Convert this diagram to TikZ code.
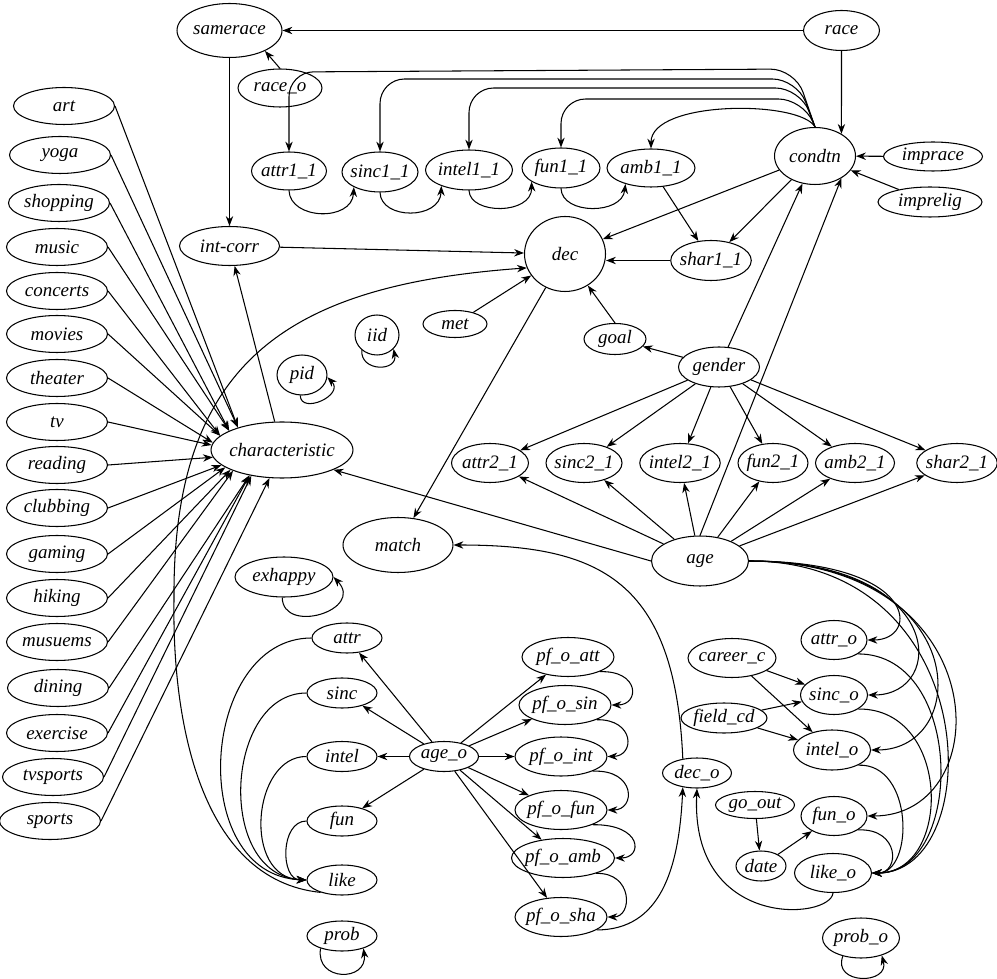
\documentclass[tikz,border=0pt]{standalone}
\usepackage{fontspec}
\setmainfont{Liberation Serif}
\usetikzlibrary{arrows.meta,shapes.geometric}

\begin{document}
\begin{tikzpicture}[
    x=0.02cm, y=-0.02cm,
    ->,
    >={Stealth[length=5.6pt,width=4.2pt]},
    line width=0.6pt
]

\tikzstyle{var}=[
    ellipse,
    draw,
    inner xsep=-1.5pt,
    inner ysep=0pt,
    minimum height=0.78cm,
    font=\itshape\fontsize{10.8}{13}\selectfont
]
\tikzstyle{low}=[var, minimum height=0.6cm]
\tikzstyle{hobby}=[var, minimum width=2.02cm, minimum height=0.74cm]

\useasboundingbox (0,0) rectangle (997,979);

% top part
\node[var, minimum width=2.1cm, minimum height=1.08cm] (samerace) at (229.5,30.5) {samerace};
\node[var, minimum width=1.52cm, minimum height=0.8cm] (race) at (841.5,30.5) {race};
\node[var, minimum width=1.68cm, minimum height=0.76cm] (race_o) at (280,88) {race\_o};
\node[var, minimum width=1.5cm, minimum height=0.76cm] (attr1_1) at (289,171) {attr1\_1};
\node[var, minimum width=1.52cm, minimum height=0.8cm] (sinc1_1) at (380,172) {sinc1\_1};
\node[var, minimum width=1.74cm, minimum height=0.8cm] (intel1_1) at (469,170) {intel1\_1};
\node[var, minimum width=1.56cm, minimum height=0.8cm] (fun1_1) at (561,168) {fun1\_1};
\node[var, minimum width=1.76cm, minimum height=0.76cm] (amb1_1) at (651,168) {amb1\_1};
\node[var, minimum width=1.62cm, minimum height=1.14cm] (condtn) at (815,156) {condtn};
\node[low, minimum width=1.98cm, minimum height=0.58cm] (imprace) at (933,156.5) {imprace};
\node[low, minimum width=2.08cm] (imprelig) at (930,202) {imprelig};
\node[var, minimum width=1.56cm, minimum height=0.8cm] (shar1_1) at (711,260.5) {shar1\_1};
\node[var, minimum width=1.62cm, minimum height=1.5cm] (dec) at (565,254) {dec};
\node[var, minimum width=2cm] (intcorr) at (229.5,246) {int-corr};
\node[low, minimum width=1.28cm, minimum height=0.54cm] (met) at (455,324) {met};
\node[var, minimum width=0.88cm, minimum height=0.8cm] (iid) at (377,335) {iid};
\node[var, minimum width=1cm, minimum height=0.8cm] (pid) at (302,375) {pid};
\node[low, minimum width=1.24cm, minimum height=0.62cm] (goal) at (615,339) {goal};
\node[var, minimum width=1.62cm, minimum height=0.8cm] (gender) at (719,367) {gender};
\node[var, minimum width=2.84cm, minimum height=1.12cm] (characteristic) at (282,450) {characteristic};

\node[var, minimum width=1.54cm] (attr2_1) at (490,463) {attr2\_1};
\node[var, minimum width=1.44cm] (sinc2_1) at (584,463) {sinc2\_1};
\node[var, minimum width=1.54cm] (intel2_1) at (680,463) {intel2\_1};
\node[var, minimum width=1.4cm] (fun2_1) at (773,463) {fun2\_1};
\node[var, minimum width=1.36cm] (amb2_1) at (855,463) {amb2\_1};
\node[var, minimum width=1.6cm] (shar2_1) at (957,463) {shar2\_1};

\node[var, minimum width=2.2cm, minimum height=1.1cm] (match) at (398,545) {match};
\node[var, minimum width=1.94cm, minimum height=1cm] (age) at (700,561) {age};
\node[var, minimum width=1.96cm, minimum height=0.8cm] (exhappy) at (284,577) {exhappy};

% hobbies
\node[hobby] (art) at (64,106) {art};
\node[hobby] (yoga) at (60,155) {yoga};
\node[hobby] (shopping) at (59,203) {shopping};
\node[hobby] (music) at (57,247) {music};
\node[hobby] (concerts) at (57,291) {concerts};
\node[hobby] (movies) at (57,334) {movies};
\node[hobby] (theater) at (57,378) {theater};
\node[hobby] (tv) at (57,422) {tv};
\node[hobby] (reading) at (57,465) {reading};
\node[hobby] (clubbing) at (57,508) {clubbing};
\node[hobby] (gaming) at (57,554) {gaming};
\node[hobby] (hiking) at (57,598) {hiking};
\node[hobby] (musuems) at (57,642) {musuems};
\node[hobby] (dining) at (58,688) {dining};
\node[hobby] (exercise) at (57,733) {exercise};
\node[hobby] (tvsports) at (53,777) {tvsports};
\node[hobby] (sports) at (50,821) {sports};

% partner ratings
\node[low, minimum width=1.4cm] (attr) at (347,638) {attr};
\node[low, minimum width=1.4cm] (sinc) at (342,693) {sinc};
\node[low, minimum width=1.4cm] (intel) at (342,756.5) {intel};
\node[low, minimum width=1.4cm] (fun) at (342,821) {fun};
\node[low, minimum width=1.4cm] (like) at (342,880) {like};
\node[low, minimum width=1.4cm] (prob) at (342,936) {prob};
\node[low, minimum width=1.38cm] (age_o) at (444,756.5) {age\_o};

\node[var, minimum width=1.84cm] (pf_o_att) at (568,657) {pf\_o\_att};
\node[var, minimum width=1.84cm] (pf_o_sin) at (565,705) {pf\_o\_sin};
\node[var, minimum width=1.84cm] (pf_o_int) at (561,756.5) {pf\_o\_int};
\node[var, minimum width=1.84cm] (pf_o_fun) at (561,810) {pf\_o\_fun};
\node[var, minimum width=2.06cm] (pf_o_amb) at (563,858) {pf\_o\_amb};
\node[var, minimum width=1.84cm] (pf_o_sha) at (561,917) {pf\_o\_sha};

\node[low, minimum width=1.38cm] (dec_o) at (697,773) {dec\_o};
\node[var, minimum width=1.32cm] (attr_o) at (834,640) {attr\_o};
\node[var, minimum width=1.76cm] (career_c) at (732,658) {career\_c};
\node[var, minimum width=1.34cm] (sinc_o) at (834,695) {sinc\_o};
\node[low, minimum width=1.72cm] (field_cd) at (724,718) {field\_cd};
\node[var, minimum width=1.54cm, minimum height=0.8cm] (intel_o) at (832,750) {intel\_o};
\node[low, minimum width=1.58cm, minimum height=0.54cm] (go_out) at (755,805) {go\_out};
\node[var, minimum width=1.32cm] (fun_o) at (834,816) {fun\_o};
\node[low, minimum width=1cm] (date) at (761,866) {date};
\node[var, minimum width=1.54cm] (like_o) at (833,873) {like\_o};
\node[var, minimum width=1.54cm, minimum height=0.8cm] (prob_o) at (861,938) {prob\_o};

% race and condition
\draw (race) -- (samerace);
\draw (race.south) -- (condtn.40);
\draw (race_o.north) -- (samerace.-30);
\draw (samerace) -- (intcorr);
\draw[rounded corners=14pt] (condtn.north) -- (795,69) -- (289,72) -- (attr1_1.north);
\draw[rounded corners=14pt] (condtn.north) -- (797,79) -- (380,79) -- (sinc1_1.north);
\draw[rounded corners=14pt] (condtn.north) -- (800,88) -- (469,88) -- (intel1_1.north);
\draw[rounded corners=14pt] (condtn.north) -- (803,99) -- (561,99) -- (fun1_1.north);
\draw (condtn.north) .. controls (800,100) and (651,100) .. (amb1_1.north);
\draw (attr1_1.south) .. controls (290,220) and (352,222) .. (sinc1_1.-150);
\draw (sinc1_1.south) .. controls (381,220) and (440,220) .. (intel1_1.-150);
\draw (intel1_1.south) .. controls (470,215) and (532,215) .. (fun1_1.-155);
\draw (fun1_1.south) .. controls (562,215) and (622,215) .. (amb1_1.-148);
\draw (amb1_1) -- (shar1_1);
\draw (condtn) -- (shar1_1);
\draw (condtn) -- (dec);
\draw (shar1_1) -- (shar1_1 -| dec.east);
\draw (imprace) -- (condtn);
\draw (imprelig) -- (condtn);
\draw (gender) -- (condtn);
\draw (age.north) -- (condtn.-40);

% decision
\draw (intcorr) -- (dec);
\draw (characteristic) -- (intcorr);
\draw (met) -- (dec);
\draw (goal.north) -- (dec);
\draw (dec) -- (match);
\draw (gender) -- (goal);
\draw (age.west) -- (characteristic.-21);
\draw (like.-150) .. controls (200,880) and (172,720) .. (174,600)
    .. controls (172,360) and (290,285) .. (dec.-160);

\foreach \v in {attr2_1, sinc2_1, intel2_1, fun2_1, amb2_1, shar2_1} {
    \draw (gender) -- (\v);
    \draw (age) -- (\v);
}

\foreach \h/\a in {art/153, yoga/153, shopping/160, music/160, concerts/167,
    movies/167, theater/174, tv/176, reading/186, clubbing/194, gaming/197,
    hiking/201, musuems/203, dining/218, exercise/218, tvsports/220, sports/246}
    \draw (\h.east) -- (characteristic.\a);

% self loops
\draw (iid.-135) .. controls (360,372) and (398,372) .. (iid.-40);
\draw (pid.-95) .. controls (301,415) and (345,395) .. (pid.-5);
\draw (exhappy.-95) .. controls (283,635) and (365,610) .. (exhappy.east);
\draw (prob.-150) .. controls (315,982) and (368,982) .. (prob.-30);
\draw (prob_o.-135) .. controls (832,985) and (890,985) .. (prob_o.-40);

% partner side
\foreach \v in {attr, sinc, intel, fun}
    \draw (age_o) -- (\v);
\foreach \v in {pf_o_att, pf_o_sin, pf_o_int, pf_o_fun, pf_o_amb, pf_o_sha}
    \draw (age_o) -- (\v);
\draw (attr.west) .. controls (200,638) and (185,875) .. (like.west);
\draw (sinc.west) .. controls (225,693) and (215,875) .. (like.west);
\draw (intel.west) .. controls (252,756) and (242,878) .. (like.west);
\draw (fun.west) .. controls (280,821) and (280,880) .. (like.west);

\draw (pf_o_att.-25) .. controls (640,670) and (640,705) .. (pf_o_sin.east);
\draw (pf_o_sin.-25) .. controls (635,719) and (635,756) .. (pf_o_int.east);
\draw (pf_o_int.-25) .. controls (636,769) and (636,810) .. (pf_o_fun.east);
\draw (pf_o_fun.-25) .. controls (643,824) and (643,858) .. (pf_o_amb.east);
\draw (pf_o_amb.-25) .. controls (633,872) and (633,917) .. (pf_o_sha.east);
\draw (pf_o_sha.-20) .. controls (660,930) and (679,870) .. (dec_o.-135);
\draw (like_o.south) .. controls (830,920) and (690,930) .. (dec_o.south);
\draw (dec_o.135) .. controls (675,580) and (600,545) .. (match.east);

\draw (age.east) .. controls (920,561) and (920,640) .. (attr_o.east);
\draw (age.east) .. controls (947,561) and (947,695) .. (sinc_o.east);
\draw (age.east) .. controls (973,561) and (973,750) .. (intel_o.east);
\draw (age.east) .. controls (999,561) and (999,816) .. (fun_o.east);
\draw (age.east) .. controls (987,561) and (987,873) .. (like_o.east);
\draw (attr_o.-30) .. controls (965,654) and (965,873) .. (like_o.east);
\draw (sinc_o.-30) .. controls (952,708) and (952,873) .. (like_o.east);
\draw (intel_o.-30) .. controls (914,763) and (914,873) .. (like_o.east);
\draw (fun_o.-30) .. controls (900,828) and (900,873) .. (like_o.east);

\draw (career_c) -- (sinc_o);
\draw (career_c) -- (intel_o);
\draw (field_cd) -- (sinc_o);
\draw (field_cd) -- (intel_o);
\draw (go_out) -- (date);
\draw (date) -- (fun_o);

\end{tikzpicture}
\end{document}
